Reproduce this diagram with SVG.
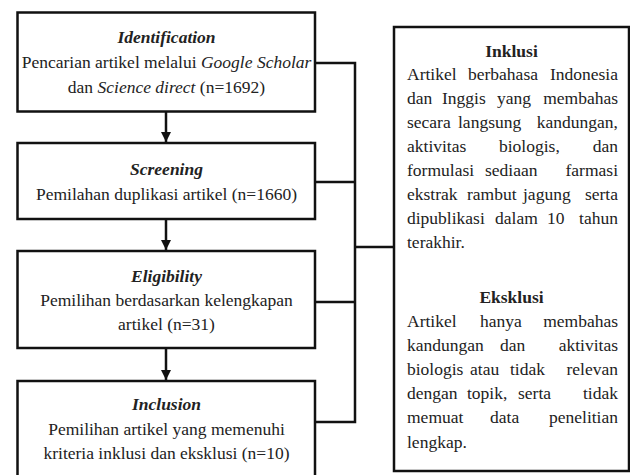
<svg xmlns="http://www.w3.org/2000/svg" width="630" height="475" viewBox="0 0 630 475">
<defs>
<style>
.box{fill:#fff;stroke:#111;stroke-width:2.5}
.ln{fill:none;stroke:#111;stroke-width:2.5}
text{font-size:17.5px;fill:#222}
.c{text-anchor:middle}
.h{font-weight:bold;font-style:italic}
.b{font-weight:bold}
.i{font-style:italic}
.e{text-anchor:end}
</style>
<marker id="arr" viewBox="0 0 10 10" refX="10" refY="5" markerWidth="10" markerHeight="10" markerUnits="userSpaceOnUse" orient="auto">
<path d="M0,0 L10,5 L0,10 Z" fill="#111"/>
</marker>
</defs>
<g id="connectors">
<line class="ln" x1="166" y1="112" x2="166" y2="142" marker-end="url(#arr)"/>
<line class="ln" x1="166" y1="220" x2="166" y2="250" marker-end="url(#arr)"/>
<line class="ln" x1="166" y1="349" x2="166" y2="380" marker-end="url(#arr)"/>
<path class="ln" d="M315,63 H355 M315,182 H355 M315,302 H355 M315,422 H355 M355,61.75 V423.25 M355,247 H394"/>
</g>
<g font-family="Liberation Serif, Tinos, Times New Roman, DejaVu Serif, serif">
<g id="identification">
<rect class="box" x="17.5" y="12.5" width="297.5" height="99"/>
<text class="c h" x="166.5" y="43">Identification</text>
<text class="c" x="166.5" y="68">Pencarian artikel melalui <tspan class="i">Google Scholar</tspan></text>
<text class="c" x="166.5" y="93">dan <tspan class="i">Science direct</tspan> (n=1692)</text>
</g>
<g id="screening">
<rect class="box" x="17.5" y="143" width="297.5" height="76"/>
<text class="c h" x="166.5" y="175">Screening</text>
<text class="c" x="166.5" y="200">Pemilahan duplikasi artikel (n=1660)</text>
</g>
<g id="eligibility">
<rect class="box" x="17.5" y="251" width="297.5" height="97"/>
<text class="c h" x="166.5" y="282">Eligibility</text>
<text class="c" x="166.5" y="306">Pemilihan berdasarkan kelengkapan</text>
<text class="c" x="166.5" y="330">artikel (n=31)</text>
</g>
<g id="inclusion">
<rect class="box" x="17.5" y="381" width="297.5" height="100"/>
<text class="c h" x="166.5" y="410">Inclusion</text>
<text class="c" x="166.5" y="435">Pemilihan artikel yang memenuhi</text>
<text class="c" x="166.5" y="459">kriteria inklusi dan eksklusi (n=10)</text>
</g>
<g id="criteria">
<rect class="box" x="394" y="27" width="235" height="444"/>
<text class="c b" x="511.5" y="57">Inklusi</text>
<text y="80"><tspan x="407">Artikel</tspan><tspan x="468">berbahasa</tspan><tspan class="e" x="618">Indonesia</tspan></text>
<text y="104"><tspan x="407">dan</tspan><tspan x="442">Inggis</tspan><tspan x="497">yang</tspan><tspan class="e" x="618">membahas</tspan></text>
<text y="128"><tspan x="407">secara</tspan><tspan x="458">langsung</tspan><tspan class="e" x="618">kandungan,</tspan></text>
<text y="152"><tspan x="407">aktivitas</tspan><tspan x="499">biologis,</tspan><tspan class="e" x="618">dan</tspan></text>
<text y="176"><tspan x="407">formulasi</tspan><tspan x="485">sediaan</tspan><tspan class="e" x="618">farmasi</tspan></text>
<text y="200"><tspan x="407">ekstrak</tspan><tspan x="467">rambut</tspan><tspan x="523">jagung</tspan><tspan class="e" x="618">serta</tspan></text>
<text y="224"><tspan x="407">dipublikasi</tspan><tspan x="495">dalam</tspan><tspan x="547">10</tspan><tspan class="e" x="618">tahun</tspan></text>
<text x="407" y="248">terakhir.</text>
<text class="c b" x="511.5" y="303">Eksklusi</text>
<text y="327"><tspan x="407">Artikel</tspan><tspan x="480">hanya</tspan><tspan class="e" x="618">membahas</tspan></text>
<text y="351"><tspan x="407">kandungan</tspan><tspan x="500">dan</tspan><tspan class="e" x="618">aktivitas</tspan></text>
<text y="375"><tspan x="407">biologis</tspan><tspan x="470">atau</tspan><tspan x="510">tidak</tspan><tspan class="e" x="618">relevan</tspan></text>
<text y="399"><tspan x="407">dengan</tspan><tspan x="467">topik,</tspan><tspan x="518">serta</tspan><tspan class="e" x="618">tidak</tspan></text>
<text y="423"><tspan x="407">memuat</tspan><tspan x="490">data</tspan><tspan class="e" x="618">penelitian</tspan></text>
<text x="407" y="448">lengkap.</text>
</g>
</g>
</svg>
